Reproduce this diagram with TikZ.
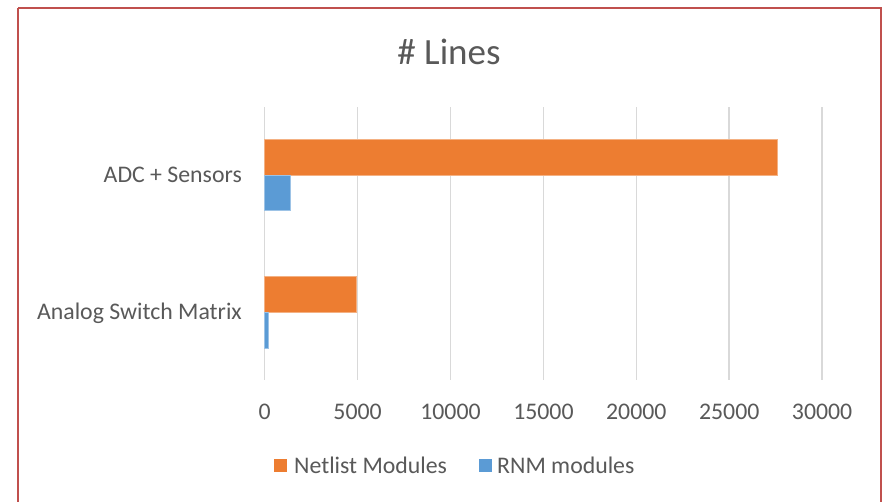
\documentclass[tikz,border=0pt]{standalone}
\usepackage{fontspec}
\setmainfont{Carlito}
\definecolor{txt}{HTML}{595959}
\definecolor{grid}{HTML}{D9D9D9}
\definecolor{frame}{HTML}{C0504D}
\definecolor{orng}{HTML}{ED7D31}
\definecolor{blu}{HTML}{5B9BD5}
\begin{document}
\begin{tikzpicture}[x=1pt,y=-1pt,
  lbl/.style={text=txt,font=\fontsize{23.8}{26}\selectfont,inner sep=0pt},
  gridline/.style={draw=grid,line width=1.5pt},
  barO/.style={fill=orng,draw=orng!60!white,line width=0.6pt},
  barB/.style={fill=blu,draw=blu!60!white,line width=0.6pt}]
\useasboundingbox (0,0) rectangle (882,501);
\fill[white] (0,0) rectangle (882,501);
% gridlines
\foreach \i in {0,...,6}{
  \draw[gridline] ({264.7+\i*92.9},107) -- ({264.7+\i*92.9},380);
}
% bars
\path[barO] (264.7,139.3) rectangle (777.3,175);
\path[barB] (264.7,175) rectangle (290.7,210.7);
\path[barO] (264.7,276.7) rectangle (356,312.3);
\path[barB] (264.7,312.3) rectangle (268.7,348.3);
% frame
\draw[frame,line width=2pt] (18,8) -- (881,8) -- (881,510);
\draw[frame,line width=2pt] (18,8) -- (18,510);
% title
\node[lbl,font=\fontsize{37}{40}\selectfont] (title) at (449,52) {\# Lines};
% category labels
\node[lbl,anchor=east] (cat1) at (242,175) {ADC + Sensors};
\node[lbl,anchor=east] (cat2) at (242,313) {Analog Switch Matrix};
% tick labels
\foreach \v [count=\i from 0] in {0,5000,10000,15000,20000,25000,30000}{
  \node[lbl] (tick\i) at ({264.7+\i*92.9},411.5) {\v};
}
% legend
\fill[orng] (274,458.5) rectangle (287,471.5);
\node[lbl,anchor=west] (leg1) at (294,465.5) {Netlist Modules};
\fill[blu] (478.5,458.5) rectangle (491.5,471.5);
\node[lbl,anchor=west] (leg2) at (497,465.5) {RNM modules};
\end{tikzpicture}
\end{document}
